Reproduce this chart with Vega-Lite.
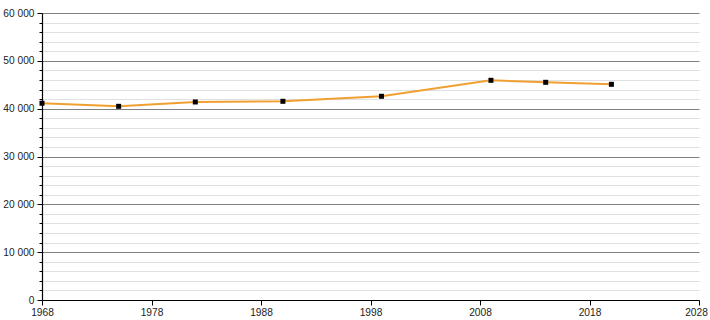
{
  "$schema": "https://vega.github.io/schema/vega-lite/v6.json",
  "width": 657,
  "height": 287,
  "autosize": {"type": "none"},
  "padding": {"left": 42, "top": 13, "right": 11, "bottom": 20},
  "background": "white",
  "config": {
    "view": {"stroke": null},
    "axis": {"labelFont": "Liberation Sans", "labelFontSize": 10.2, "labelColor": "#222", "domainColor": "#000", "tickColor": "#000", "domainWidth": 1.2}
  },
  "data": {
    "values": [
      {"year": 1968, "pop": 41130},
      {"year": 1975, "pop": 40490},
      {"year": 1982, "pop": 41400},
      {"year": 1990, "pop": 41540},
      {"year": 1999, "pop": 42590},
      {"year": 2009, "pop": 45930},
      {"year": 2014, "pop": 45510},
      {"year": 2020, "pop": 45090}
    ]
  },
  "encoding": {
    "x": {
      "field": "year", "type": "quantitative",
      "scale": {"domain": [1968, 2028], "nice": false, "zero": false},
      "axis": {"title": null, "values": [1968, 1978, 1988, 1998, 2008, 2018, 2028], "format": "d", "grid": false, "tickSize": 5, "labelPadding": 2, "labelFlush": false, "labelOverlap": false,
        "labelOffset": {"condition": {"test": "datum.value === 2028", "value": -3}, "value": 0}}
    },
    "y": {
      "field": "pop", "type": "quantitative",
      "scale": {"domain": [0, 60000], "nice": false},
      "axis": {
        "title": null,
        "values": [0,2000,4000,6000,8000,10000,12000,14000,16000,18000,20000,22000,24000,26000,28000,30000,32000,34000,36000,38000,40000,42000,44000,46000,48000,50000,52000,54000,56000,58000,60000],
        "labelExpr": "datum.value % 10000 === 0 ? replace(format(datum.value, ','), ',', ' ') : ''",
        "grid": true,
        "gridColor": {"condition": {"test": "datum.value % 10000 === 0", "value": "#808080"}, "value": "#e0e0e0"},
        "tickSize": {"condition": {"test": "datum.value % 10000 === 0", "value": 5}, "value": 3},
        "labelPadding": 3,
        "labelBaseline": "middle"
      }
    }
  },
  "layer": [
    {"mark": {"type": "line", "color": "#f0a030", "strokeWidth": 2}},
    {"mark": {"type": "square", "color": "#000", "opacity": 1, "size": 25, "filled": true}}
  ]
}
